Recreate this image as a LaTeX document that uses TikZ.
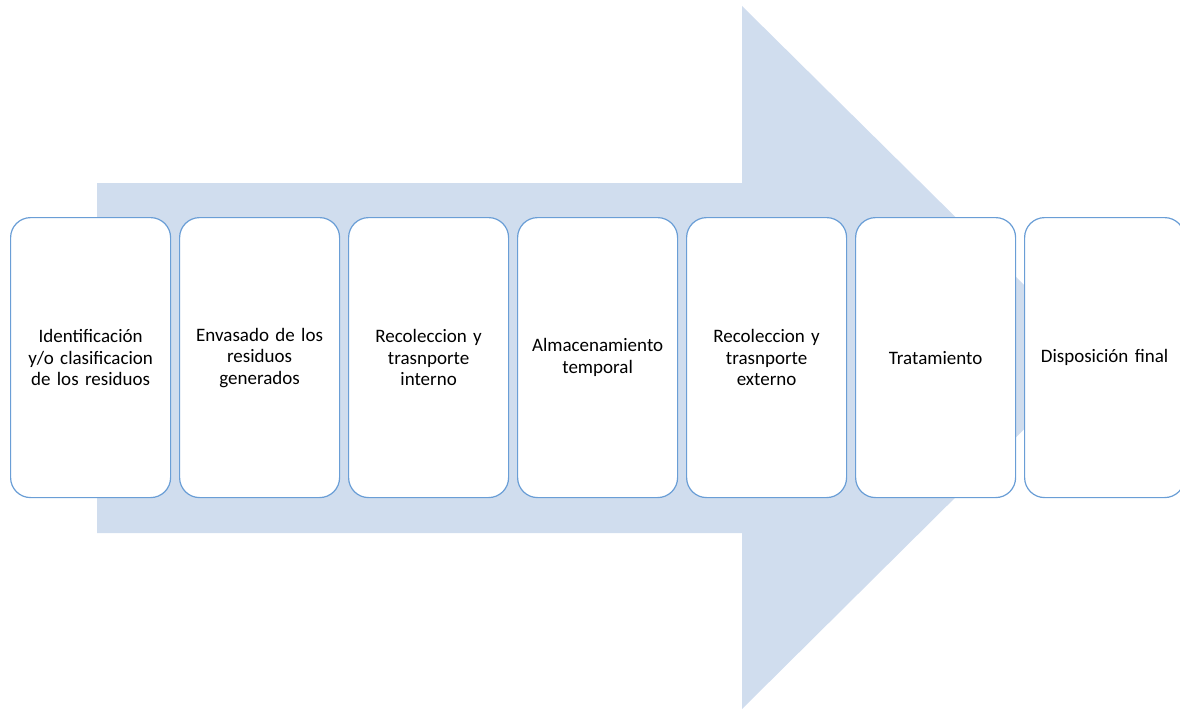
\documentclass[tikz,border=0pt]{standalone}
\usepackage{fontspec}
\setmainfont{Carlito}
\usetikzlibrary{positioning}
\definecolor{arrowfill}{HTML}{D0DDEE}
\definecolor{boxline}{HTML}{6A9ED6}

\begin{document}
\begin{tikzpicture}[
    x=1pt, y=-1pt,
    node distance=7.8pt,
    stage/.style={rectangle, draw=boxline, line width=1.2pt, fill=white, rounded corners=20pt,
        minimum width=160pt, minimum height=280pt, text width=150pt, align=center,
        font=\fontsize{19}{21.5}\selectfont, inner sep=0pt}
]
    \useasboundingbox (0,0) rectangle (1180,709);

    % Big arrow behind the stages
    \fill[arrowfill] (97,183) -- (742,183) -- (742,6) -- (1097,357) -- (742,709)
        -- (742,533) -- (97,533) -- cycle;

    % Stages
    \node[stage, anchor=north west] (S1) at (10,217) {Identificación\\ y/o clasificacion\\ de los residuos};
    \node[stage, right=of S1] (S2) {Envasado de los\\ residuos\\ generados};
    \node[stage, right=of S2] (S3) {Recoleccion y\\ trasnporte\\ interno};
    \node[stage, right=of S3] (S4) {Almacenamiento\\ temporal};
    \node[stage, right=of S4] (S5) {Recoleccion y\\ trasnporte\\ externo};
    \node[stage, right=of S5] (S6) {Tratamiento};
    \node[stage, right=of S6] (S7) {Disposición final};
\end{tikzpicture}
\end{document}
